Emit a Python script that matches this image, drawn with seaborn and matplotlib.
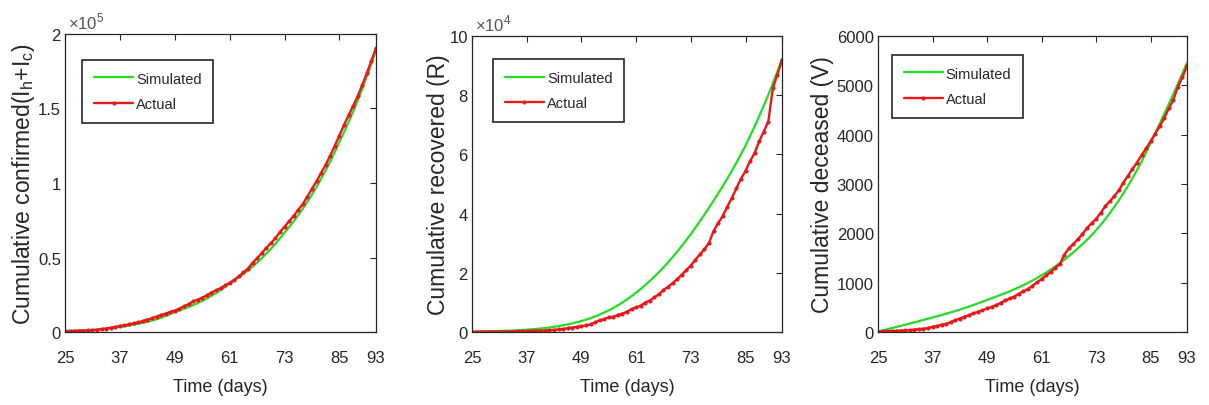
import matplotlib
matplotlib.use('Agg')
import matplotlib.pyplot as plt
import seaborn as sns
from matplotlib import font_manager
from matplotlib.ticker import FuncFormatter

# day index 25..93
days = list(range(25, 94))
day_ticks = [25, 37, 49, 61, 73, 85, 93]

actual_confirmed = [
    562, 649, 724, 873, 979, 1071, 1251,
    1397, 1965, 2301, 2902, 3374, 4067, 4421, 5194, 5734, 6412,
    7447, 8356, 9152, 10363, 11439, 12380, 13387, 14378, 15712, 17265,
    18601, 20471, 21700, 23077, 24506, 26496, 27892, 29435, 31332, 33050,
    35043, 37336, 39980, 42533, 46433, 49391, 52952, 56342, 59662, 62939,
    67152, 70756, 74281, 78003, 81970, 85940, 90927, 96169, 101139, 106750,
    112359, 118447, 125101, 131868, 138845, 145380, 151767, 158333, 165799, 173763,
    182143, 190535,
]
sim_confirmed = [
    600, 695, 805, 932, 1079, 1250, 1447,
    1676, 1941, 2247, 2602, 3013, 3490, 3905, 4370, 4890, 5472,
    6123, 6852, 7667, 8580, 9601, 10743, 12022, 13452, 14478, 15583,
    16772, 18052, 19429, 20912, 22507, 24225, 26073, 28063, 30204, 32509,
    34510, 36640, 38910, 41310, 43860, 46570, 49450, 52510, 55750, 59200,
    62860, 66740, 70440, 74350, 78480, 82830, 87430, 92280, 97400, 102800,
    108500, 114530, 120880, 127590, 134030, 140800, 147910, 155380, 163230, 171470,
    180130, 189230,
]

actual_recovered = [
    40, 43, 66, 79, 86, 100, 102,
    124, 151, 157, 184, 267, 292, 326, 402, 473, 504,
    642, 716, 857, 1036, 1306, 1489, 1749, 1992, 2231, 2546,
    3252, 3960, 4325, 5012, 5063, 5804, 6185, 6869, 7696, 8325,
    8889, 9950, 10633, 11707, 12727, 14183, 15267, 16540, 17847, 19358,
    20917, 22455, 24386, 26235, 27920, 30153, 34109, 36824, 39174, 42298,
    45300, 48534, 51784, 54441, 57721, 60491, 64426, 67692, 71106, 82370,
    86984, 91819,
]
sim_recovered = [
    150, 173, 199, 228, 263, 302, 348,
    399, 459, 526, 603, 691, 791, 905, 1035, 1182, 1349,
    1538, 1753, 1997, 2269, 2574, 2914, 3292, 3712, 4177, 4690,
    5257, 5880, 6563, 7312, 8129, 9016, 9974, 11006, 12115, 13303,
    14540, 15853, 17244, 18708, 20245, 21855, 23534, 25293, 27133, 29048,
    31038, 33103, 35238, 37440, 39699, 42015, 44382, 46793, 49242, 51788,
    54432, 57177, 60026, 62978, 66170, 69480, 72900, 76455, 80130, 83985,
    88035, 92280,
]

actual_deceased = [
    9, 13, 17, 19, 25, 29, 32,
    35, 50, 56, 68, 77, 109, 117, 149, 166, 199,
    239, 273, 308, 339, 377, 414, 437, 480, 507, 543,
    590, 640, 681, 718, 775, 824, 872, 937, 1007, 1074,
    1147, 1218, 1301, 1373, 1568, 1694, 1783, 1886, 1981, 2109,
    2206, 2293, 2415, 2549, 2649, 2752, 2872, 3029, 3163, 3303,
    3435, 3583, 3720, 3867, 4021, 4167, 4337, 4531, 4706, 4971,
    5164, 5394,
]
sim_deceased = [
    10, 32, 55, 78, 101, 124, 148,
    172, 196, 220, 245, 270, 295, 319, 344, 370, 397,
    425, 454, 484, 515, 547, 580, 614, 650, 684, 718,
    752, 788, 825, 865, 906, 950, 996, 1044, 1095, 1148,
    1205, 1266, 1329, 1395, 1465, 1538, 1615, 1696, 1781, 1870,
    1963, 2062, 2171, 2286, 2407, 2535, 2669, 2811, 2960, 3117,
    3282, 3456, 3639, 3832, 4027, 4224, 4423, 4622, 4825, 5032,
    5244, 5459,
]

sns.set_style('white')
names = {f.name for f in font_manager.fontManager.ttflist}
narrow = 'Liberation Sans Narrow' if 'Liberation Sans Narrow' in names else 'Liberation Sans'
plt.rcParams['font.family'] = [narrow, 'DejaVu Sans']
plt.rcParams['mathtext.fontset'] = 'custom'
plt.rcParams['mathtext.rm'] = narrow

dark = '#262626'
green = '#22dd22'
red = '#e81818'

fig = plt.figure(figsize=(12.09, 4.06), dpi=100)
axes = [
    fig.add_axes([0.0538, 0.1798, 0.2572, 0.7340]),
    fig.add_axes([0.3904, 0.1798, 0.2564, 0.7291]),
    fig.add_axes([0.7262, 0.1798, 0.2556, 0.7291]),
]

panels = [
    (sim_confirmed, actual_confirmed, r'Cumulative confirmed(I$_\mathregular{h}$+I$_\mathregular{c}$)',
     2e5, [0, 0.5e5, 1e5, 1.5e5, 2e5], 1e5, '5', -0.090, (0.055, 0.913)),
    (sim_recovered, actual_recovered, 'Cumulative recovered (R)',
     1e5, [0, 2e4, 4e4, 6e4, 8e4, 1e5], 1e4, '4', -0.071, (0.068, 0.922)),
    (sim_deceased, actual_deceased, 'Cumulative deceased (V)',
     6000, [0, 1000, 2000, 3000, 4000, 5000, 6000], 1, None, -0.142, (0.045, 0.936)),
]

for ax, (sim, act, ylab, ymax, yticks, scale, expo, ylab_x, leg_at) in zip(axes, panels):
    sns.lineplot(x=days, y=sim, ax=ax, color=green, linewidth=1.6, label='Simulated')
    sns.lineplot(x=days, y=act, ax=ax, color=red, linewidth=1.7, marker='o',
                 markersize=2.2, markeredgecolor=red, markerfacecolor=red, label='Actual')
    ax.set_xlim(25, 93)
    ax.set_ylim(0, ymax)
    ax.set_xticks(day_ticks)
    ax.set_yticks(yticks)
    ax.yaxis.set_major_formatter(FuncFormatter(lambda v, p, s=scale: f'{v / s:g}'))
    ax.tick_params(direction='in', length=4, width=0.8, top=True, right=True,
                   labelsize=12, colors=dark)
    ax.tick_params(axis='x', pad=13)
    ax.tick_params(axis='y', pad=3)
    for sp in ax.spines.values():
        sp.set_color(dark)
        sp.set_linewidth(0.9)
    ax.set_xlabel('Time (days)', fontsize=13, color=dark, labelpad=9)
    ax.set_ylabel(ylab, fontsize=16.5, color=dark, family='Liberation Sans')
    ax.yaxis.set_label_coords(ylab_x, 0.5)
    if expo:
        ax.text(0.01, 1.008, '×10$^\\mathregular{' + expo + '}$', transform=ax.transAxes,
                ha='left', va='bottom', fontsize=12, color='#555555')
    leg = ax.legend(loc='upper left', bbox_to_anchor=leg_at, fontsize=10.5,
                    fancybox=False, framealpha=1, edgecolor=dark, handlelength=2.7,
                    handletextpad=0.2, borderpad=0.8, labelspacing=0.8, borderaxespad=0)
    leg.get_frame().set_linewidth(1.2)

fig.savefig('out.png', dpi=100)
